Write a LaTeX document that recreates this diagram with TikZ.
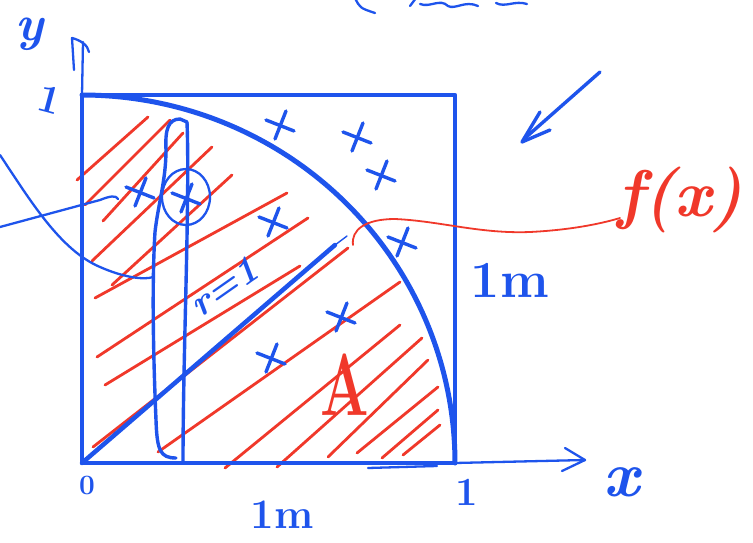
\documentclass[tikz,border=0pt]{standalone}
\usepackage{fontspec}
\definecolor{penblue}{RGB}{30,84,236}
\definecolor{inkred}{RGB}{240,56,42}
\tikzset{
  pen/.style={draw=penblue, line width=4.5pt, line cap=round, line join=round},
  midpen/.style={draw=penblue, line width=3.4pt, line cap=round, line join=round},
  thinpen/.style={draw=penblue, line width=2.3pt, line cap=round, line join=round},
  hatch/.style={draw=inkred, line width=2.8pt, line cap=round},
  redthin/.style={draw=inkred, line width=1.8pt, line cap=round},
  lab/.style={text=penblue, inner sep=0pt},
  xmark/.pic={\draw[midpen] (-5,14) -- (6,-14); \draw[midpen] (-14,-5) -- (14,6);}
}
\begin{document}
\begin{tikzpicture}[x=1pt,y=-1pt]
\useasboundingbox (0,0) rectangle (753,543);
\fill[white] (0,0) rectangle (753,543);

% red hatching
\foreach \a/\b/\c/\d in {77/180/148/117, 85/205/170/120, 103/221/183/133, 92/261/212/147,
  112/285/232/175, 95/298/287/193, 97/357/308/218, 105/385/300/266, 93/447/348/248,
  158/452/400/282, 225/468/400/325, 277/467/422/338, 328/457/428/360, 357/453/438/387,
  382/458/438/410, 403/455/440/425}
  \draw[hatch] (\a,\b) -- (\c,\d);

% square
\draw[pen] (82,95) rectangle (455,463);
\draw[thinpen] (368,468) -- (437,466);

% axes
\draw[thinpen] (82,95) -- (83,42);
\draw[thinpen] (74,70) -- (72,38) .. controls (80,40) and (88,45) .. (89,52);
\draw[thinpen] (455,463) -- (585,460);
\draw[thinpen] (565,448) -- (585,460) -- (562,471);

% quarter circle
\draw[pen, line width=5pt] plot[domain=0:90, samples=90] ({82+373*cos(\x)},{463-368*sin(\x)});

% radius
\draw[pen] (82,463) -- (335,245);
\draw[thinpen, line width=1.4pt] (335,245) -- (347,236);

% vertical strip
\draw[midpen] (187,122) .. controls (190,200) and (183,350) .. (183,463);
\draw[midpen] (176,458) .. controls (160,458) and (157,450) .. (156,420)
  .. controls (153,350) and (152,280) .. (155,232)
  .. controls (158,205) and (166,180) .. (166,150)
  .. controls (165,130) and (168,119) .. (180,119) -- (187,122);
\draw[thinpen] (186,197) ellipse[x radius=24pt, y radius=28pt];

% crosses
\foreach \px/\py in {140/192, 186/198, 280/125, 357/137, 381/175, 273/222, 402/242, 341/317, 271/358}
  \pic at (\px,\py) {xmark};

% left pointer curves
\draw[thinpen] (0,155) .. controls (30,200) and (60,250) .. (100,267) .. controls (125,278) and (145,280) .. (153,277);
\draw[thinpen] (0,227) -- (100,200) .. controls (110,196) and (116,195) .. (118,199);

% top-right arrow
\draw[midpen] (600,72) -- (524,139);
\draw[midpen] (540,112) -- (522,142) -- (550,130);

% cut-off text at the top
\draw[thinpen] (355,-2) .. controls (360,8) .. (375,13);
\draw[thinpen] (410,6) -- (416,-2);
\draw[thinpen] (420,4) .. controls (430,8) and (440,-2) .. (448,6) .. controls (455,10) and (465,0) .. (478,6);
\draw[thinpen] (496,3) .. controls (505,8) and (515,0) .. (527,4);

% f(x) connector
\draw[redthin] (353,245) .. controls (351,230) and (365,219) .. (395,219)
  .. controls (440,221) and (480,234) .. (530,232) .. controls (570,230) and (600,224) .. (620,218);

% labels
\node[lab, font=\fontsize{50}{50}\selectfont\bfseries\itshape] (ylab) at (30,34) {y};
\node[lab, font=\fontsize{40}{40}\selectfont\bfseries, rotate=-15] (one_y) at (50,100) {1};
\node[lab, font=\fontsize{28}{28}\selectfont\bfseries] (zero) at (87,485) {0};
\node[lab, font=\fontsize{40}{40}\selectfont\bfseries] (one_x) at (467,492) {1};
\node[lab, font=\fontsize{64}{64}\selectfont\bfseries\itshape] (xlab) at (621,482) {x};
\node[lab, font=\fontsize{42}{42}\selectfont\bfseries] (onem_b) at (282,515) {1m};
\node[lab, font=\fontsize{52}{52}\selectfont\bfseries] (onem_r) at (510,280) {1m};
\node[lab, font=\fontsize{38}{38}\selectfont\bfseries\itshape, rotate=35] (rlab) at (224,287) {r=1};
\node[text=inkred, inner sep=0pt, font=\fontsize{66}{66}\selectfont\bfseries\itshape] (fx) at (680,200) {f(x)};
\node[text=inkred, inner sep=0pt, font=\fontsize{88}{88}\selectfont\bfseries, xscale=0.65] (alab) at (345,385) {A};
\end{tikzpicture}
\end{document}
